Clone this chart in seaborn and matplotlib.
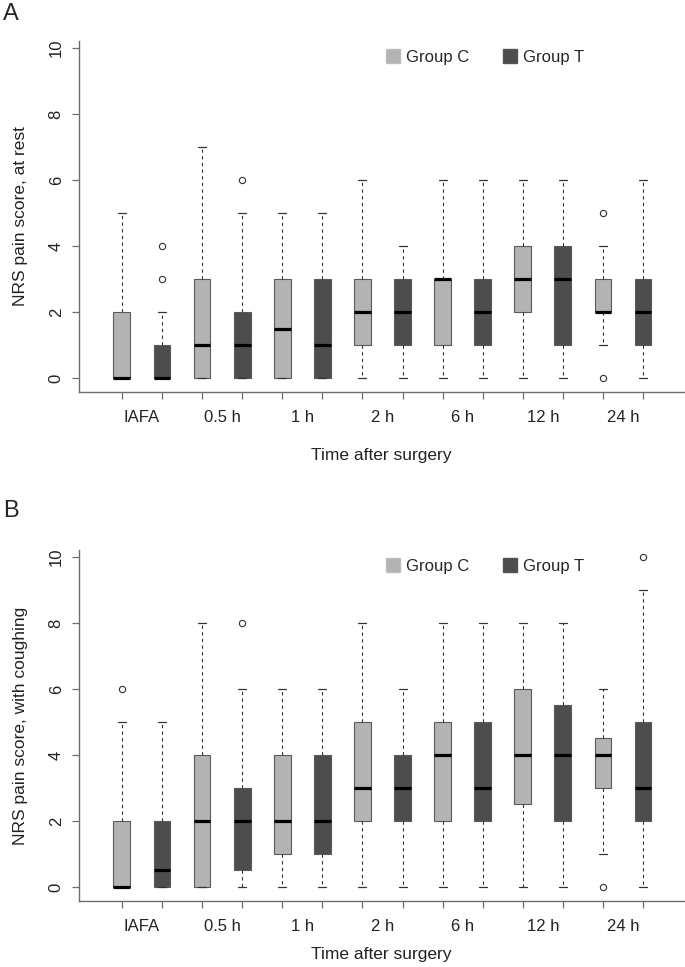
import numpy as np
import matplotlib
matplotlib.use("Agg")
import matplotlib.pyplot as plt
import matplotlib.patches as mpatches
import seaborn as sns

# time points (x categories)
labels = ["IAFA", "0.5 h", "1 h", "2 h", "6 h", "12 h", "24 h"]

# Panel A: NRS at rest -- box stats
rest_c_q1 = [0, 0, 0, 1, 1, 2, 2]
rest_c_med = [0, 1, 1.5, 2, 3, 3, 2]
rest_c_q3 = [2, 3, 3, 3, 3, 4, 3]
rest_c_lo = [0, 0, 0, 0, 0, 0, 1]
rest_c_hi = [5, 7, 5, 6, 6, 6, 4]
rest_c_out = [[], [], [], [], [], [], [0, 5]]

rest_t_q1 = [0, 0, 0, 1, 1, 1, 1]
rest_t_med = [0, 1, 1, 2, 2, 3, 2]
rest_t_q3 = [1, 2, 3, 3, 3, 4, 3]
rest_t_lo = [0, 0, 0, 0, 0, 0, 0]
rest_t_hi = [2, 5, 5, 4, 6, 6, 6]
rest_t_out = [[3, 4], [6], [], [], [], [], []]

# Panel B: NRS with coughing
cough_c_q1 = [0, 0, 1, 2, 2, 2.5, 3]
cough_c_med = [0, 2, 2, 3, 4, 4, 4]
cough_c_q3 = [2, 4, 4, 5, 5, 6, 4.5]
cough_c_lo = [0, 0, 0, 0, 0, 0, 1]
cough_c_hi = [5, 8, 6, 8, 8, 8, 6]
cough_c_out = [[6], [], [], [], [], [], [0]]

cough_t_q1 = [0, 0.5, 1, 2, 2, 2, 2]
cough_t_med = [0.5, 2, 2, 3, 3, 4, 3]
cough_t_q3 = [2, 3, 4, 4, 5, 5.5, 5]
cough_t_lo = [0, 0, 0, 0, 0, 0, 0]
cough_t_hi = [5, 6, 6, 6, 8, 8, 9]
cough_t_out = [[], [8], [], [], [], [], [10]]

col_c = "#B3B3B3"
col_t = "#4D4D4D"
axis_col = "#6E6E6E"

sns.set_style("ticks")
plt.rcParams["font.family"] = ["Liberation Sans", "DejaVu Sans"]


def make_stats(q1, med, q3, lo, hi, out):
    return [dict(q1=a, med=b, q3=c, whislo=d, whishi=e, fliers=f)
            for a, b, c, d, e, f in zip(q1, med, q3, lo, hi, out)]


def draw_panel(ax, c_stats, t_stats, ylab, xlab_y):
    stats = []
    for c, t in zip(c_stats, t_stats):
        stats += [c, t]
    pos = np.arange(1, len(stats) + 1)
    res = ax.bxp(stats, positions=pos, widths=0.42, patch_artist=True,
                 capwidths=0.2, manage_ticks=False,
                 boxprops=dict(edgecolor="#5a5a5a", linewidth=0.8),
                 whiskerprops=dict(color="#333333", linewidth=0.8, linestyle=(0, (3, 3))),
                 capprops=dict(color="#333333", linewidth=0.9),
                 medianprops=dict(color="black", linewidth=2.3, solid_capstyle="butt"),
                 flierprops=dict(marker="o", markerfacecolor="none", markeredgecolor="#333333",
                                 markersize=4.5, markeredgewidth=0.8))
    for i, b in enumerate(res["boxes"]):
        b.set_facecolor(col_c if i % 2 == 0 else col_t)

    ax.set_xlim(-0.07, 15.02)
    ax.set_ylim(-0.424, 10.21)
    ax.set_yticks([0, 2, 4, 6, 8, 10])
    ax.tick_params(axis="y", labelrotation=90, length=5, width=0.9, color=axis_col,
                   pad=6, labelsize=12, labelcolor="#222222")
    for t in ax.get_yticklabels():
        t.set_va("center")
    ax.set_xticks(pos)
    ax.set_xticklabels([])
    ax.set_xticks(np.arange(1.5, 14, 2), minor=True)
    ax.set_xticklabels(labels, minor=True)
    ax.tick_params(axis="x", which="major", length=5, width=0.9, color=axis_col)
    ax.tick_params(axis="x", which="minor", length=0, pad=13, labelsize=12, labelcolor="#222222")

    sns.despine(ax=ax)
    for s in ["left", "bottom"]:
        ax.spines[s].set_color(axis_col)
        ax.spines[s].set_linewidth(1.0)

    ax.set_xlabel("Time after surgery", fontsize=12.5, color="#222222")
    ax.xaxis.set_label_coords(0.5, xlab_y)
    ax.xaxis.label.set_va("center")
    ax.set_ylabel(ylab, fontsize=12.5, color="#222222")
    ax.yaxis.set_label_coords(-0.096, 0.5)
    ax.yaxis.label.set(ha="center", va="center", rotation_mode="default")

    handles = [mpatches.Patch(facecolor=col_c, edgecolor="#bdbdbd", label="Group C"),
               mpatches.Patch(facecolor=col_t, edgecolor="#555555", label="Group T")]
    ax.legend(handles=handles, loc="center left", bbox_to_anchor=(7.59, 9.72),
              bbox_transform=ax.transData, ncol=2, frameon=False, fontsize=12,
              handlelength=0.84, handleheight=0.84, handletextpad=0.36,
              columnspacing=2.0, borderpad=0, borderaxespad=0)


fig = plt.figure(figsize=(6.85, 9.67), dpi=100)
ax_a = fig.add_axes([0.1153, 0.5946, 0.8832, 0.3630])
ax_b = fig.add_axes([0.1153, 0.0683, 0.8832, 0.3630])

draw_panel(ax_a,
           make_stats(rest_c_q1, rest_c_med, rest_c_q3, rest_c_lo, rest_c_hi, rest_c_out),
           make_stats(rest_t_q1, rest_t_med, rest_t_q3, rest_t_lo, rest_t_hi, rest_t_out),
           "NRS pain score, at rest", -0.1795)
draw_panel(ax_b,
           make_stats(cough_c_q1, cough_c_med, cough_c_q3, cough_c_lo, cough_c_hi, cough_c_out),
           make_stats(cough_t_q1, cough_t_med, cough_t_q3, cough_t_lo, cough_t_hi, cough_t_out),
           "NRS pain score, with coughing", -0.1538)

fig.text(0.004, 1 - 3 / 967, "A", va="top", ha="left", fontsize=17)
fig.text(0.004, 1 - 500 / 967, "B", va="top", ha="left", fontsize=17)

fig.savefig("out.png", dpi=100)
